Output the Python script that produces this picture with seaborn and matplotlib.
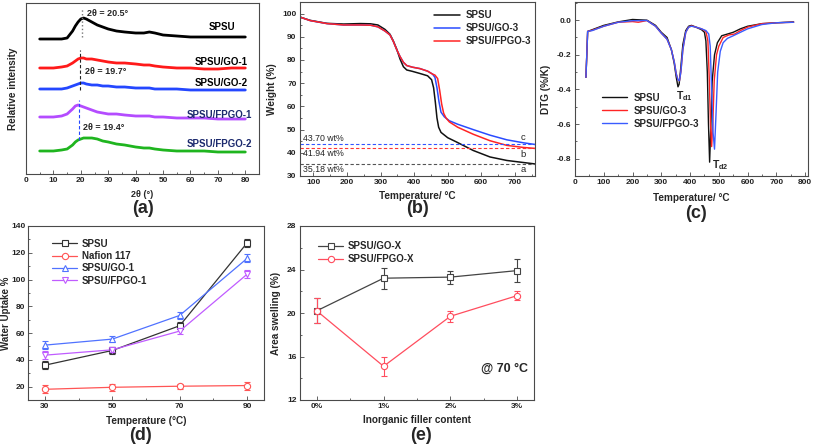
import matplotlib
matplotlib.use('Agg')
import matplotlib.pyplot as plt
from matplotlib.ticker import MultipleLocator, FixedLocator
import seaborn as sns

# ---------------- (a) XRD ----------------
xrd_2theta = [5, 10, 13, 15, 17, 18, 19, 20, 21, 22, 24, 26, 28, 30, 33, 36, 40, 43, 45, 47, 50, 55, 60, 65, 70, 75, 80]
xrd_spsu = [135, 135, 135, 136, 143, 148, 152, 155, 156, 155, 152, 149, 147, 145, 143, 142, 141, 141, 142, 141, 139, 138, 137, 137, 137, 137, 137]
xrd_go1 = [106, 106, 107, 108, 111, 113, 115, 116, 116, 115, 115, 114, 113, 112, 111, 111, 110, 109, 109, 108, 107, 106, 106, 105, 105, 106, 106]
xrd_go2 = [85, 85, 85, 86, 88, 89, 90, 91, 91, 90, 89, 89, 88, 88, 87, 87, 86, 86, 86, 85, 85, 85, 84, 84, 84, 84, 84]
xrd_fpgo1 = [57, 57, 58, 60, 65, 68, 69, 68, 67, 66, 64, 62, 61, 60, 60, 59, 58, 58, 58, 57, 57, 56, 56, 56, 55, 55, 55]
xrd_fpgo2 = [23, 23, 24, 25, 29, 32, 34, 35, 36, 36, 36, 35, 33, 32, 30, 29, 27, 26, 26, 25, 24, 23, 23, 23, 22, 22, 22]
xrd_names = ['SPSU', 'SPSU/GO-1', 'SPSU/GO-2', 'SPSU/FPGO-1', 'SPSU/FPGO-2']

# ---------------- (b) TGA ----------------
tga_T_spsu = [60, 90, 140, 190, 240, 270, 292, 313, 328, 338, 348, 358, 368, 378, 395, 417, 440, 452, 458, 463, 468, 473, 480, 500, 527, 576, 626, 676, 726, 760]
tga_spsu = [98.5, 97.1, 95.8, 95.5, 95.7, 95.6, 95.1, 93.2, 91.1, 88.2, 84.7, 80.4, 77.1, 75.7, 75.1, 74.2, 73.2, 71.5, 68.0, 62.0, 55.0, 51.0, 48.8, 46.5, 44.6, 41.0, 38.2, 36.7, 35.8, 35.2]
tga_T_go3 = [60, 90, 140, 190, 240, 270, 292, 313, 328, 338, 348, 358, 368, 378, 395, 417, 440, 455, 462, 468, 474, 480, 490, 505, 530, 576, 626, 676, 726, 760]
tga_go3 = [98.5, 97.0, 95.7, 95.1, 95.1, 95.0, 94.3, 92.5, 90.8, 88.0, 84.5, 81.5, 79.0, 77.6, 76.9, 76.3, 75.2, 73.9, 72.5, 68.0, 62.0, 57.5, 55.5, 53.8, 52.3, 50.0, 47.6, 45.6, 44.3, 43.6]
tga_T_fpgo3 = [60, 90, 140, 190, 240, 270, 292, 313, 328, 338, 348, 358, 368, 378, 395, 417, 440, 455, 462, 470, 476, 482, 488, 495, 505, 530, 576, 626, 676, 726, 760]
tga_fpgo3 = [98.5, 97.0, 95.7, 95.1, 95.1, 95.0, 94.3, 92.5, 90.8, 88.0, 84.5, 81.5, 79.0, 77.6, 76.9, 76.3, 75.2, 73.9, 73.5, 72.0, 67.0, 61.0, 57.0, 55.0, 53.3, 51.0, 48.0, 45.2, 43.2, 42.3, 41.9]
residues = [43.70, 41.94, 35.18]
residue_labels = ['43.70 wt%', '41.94 wt%', '35.18 wt%']

# ---------------- (c) DTG ----------------
dtg_T_spsu = [38, 41, 44, 60, 100, 150, 200, 250, 280, 300, 320, 335, 345, 352, 358, 362, 368, 375, 385, 395, 405, 420, 440, 450, 455, 460, 464, 468, 472, 477, 485, 495, 510, 530, 550, 575, 600, 650, 700, 760]
dtg_spsu = [-0.33, -0.2, -0.065, -0.055, -0.03, -0.01, 0.004, 0.0, -0.03, -0.07, -0.1, -0.17, -0.25, -0.33, -0.385, -0.37, -0.27, -0.14, -0.06, -0.035, -0.03, -0.04, -0.055, -0.07, -0.12, -0.3, -0.6, -0.82, -0.62, -0.35, -0.2, -0.13, -0.09, -0.08, -0.07, -0.05, -0.035, -0.02, -0.015, -0.01]
dtg_T_go3 = [38, 41, 44, 60, 100, 150, 200, 220, 250, 280, 300, 320, 335, 345, 352, 358, 363, 368, 375, 385, 395, 405, 420, 440, 455, 462, 467, 471, 475, 479, 484, 492, 500, 515, 535, 555, 575, 600, 650, 700, 760]
dtg_go3 = [-0.33, -0.2, -0.065, -0.058, -0.035, -0.012, -0.008, -0.012, -0.002, -0.035, -0.075, -0.11, -0.17, -0.24, -0.31, -0.345, -0.35, -0.3, -0.17, -0.07, -0.04, -0.033, -0.04, -0.05, -0.065, -0.12, -0.35, -0.6, -0.73, -0.6, -0.35, -0.2, -0.15, -0.1, -0.085, -0.08, -0.06, -0.04, -0.02, -0.015, -0.012]
dtg_T_fpgo3 = [38, 41, 44, 60, 100, 150, 200, 250, 280, 300, 320, 335, 345, 352, 358, 363, 368, 375, 385, 395, 405, 420, 440, 455, 465, 470, 475, 480, 485, 490, 496, 505, 515, 530, 550, 575, 600, 650, 700, 760]
dtg_fpgo3 = [-0.33, -0.2, -0.065, -0.06, -0.035, -0.012, -0.003, -0.002, -0.035, -0.075, -0.11, -0.17, -0.24, -0.31, -0.345, -0.35, -0.3, -0.17, -0.07, -0.04, -0.035, -0.04, -0.05, -0.06, -0.08, -0.15, -0.4, -0.65, -0.745, -0.55, -0.3, -0.18, -0.13, -0.105, -0.09, -0.07, -0.05, -0.025, -0.015, -0.012]

# ---------------- (d) water uptake ----------------
wu_temp = [30, 50, 70, 90]
wu_spsu = [36.0, 47.0, 65.5, 127.4]
wu_spsu_err = [3.0, 2.5, 2.5, 3.0]
wu_nafion = [18.0, 19.5, 20.3, 20.8]
wu_nafion_err = [3.0, 2.5, 2.0, 3.0]
wu_go1 = [51.0, 55.5, 73.2, 115.8]
wu_go1_err = [3.0, 2.5, 2.5, 3.0]
wu_fpgo1 = [43.5, 47.5, 61.5, 104.0]
wu_fpgo1_err = [3.0, 2.0, 2.0, 3.0]

# ---------------- (e) area swelling ----------------
filler_labels = ['0%', '1%', '2%', '3%']
sw_go = [20.2, 23.2, 23.3, 23.9]
sw_go_err = [1.15, 0.95, 0.6, 1.05]
sw_fpgo = [20.2, 15.1, 19.7, 21.6]
sw_fpgo_err = [1.15, 0.9, 0.5, 0.45]

# ====================================================
sns.set_theme(style='ticks')
plt.rcParams['font.family'] = ['Liberation Sans', 'DejaVu Sans']
plt.rcParams['font.weight'] = 'bold'
plt.rcParams['axes.labelweight'] = 'bold'
plt.rcParams['axes.unicode_minus'] = False
plt.rcParams['mathtext.fontset'] = 'custom'
plt.rcParams['mathtext.rm'] = 'Liberation Sans:bold'
plt.rcParams['mathtext.it'] = 'Liberation Sans:bold'
plt.rcParams['mathtext.bf'] = 'Liberation Sans:bold'

W, H = 816, 445
fig = plt.figure(figsize=(W / 100, H / 100), dpi=100)


def rect(x0, y0, x1, y1):
    return [x0 / W, 1 - y1 / H, (x1 - x0) / W, (y1 - y0) / H]


def style(ax, xmaj, xmin, ymaj=None, ymin=None):
    for s in ax.spines.values():
        s.set_color('#4a4a4a')
        s.set_linewidth(0.8)
    ax.xaxis.set_major_locator(MultipleLocator(xmaj))
    ax.xaxis.set_minor_locator(MultipleLocator(xmin))
    if ymaj is not None:
        ax.yaxis.set_major_locator(MultipleLocator(ymaj))
        ax.yaxis.set_minor_locator(MultipleLocator(ymin))
    ax.tick_params(which='both', direction='in', width=0.6, color='#4a4a4a',
                   labelsize=6, pad=2.5, labelcolor='#222222')
    ax.tick_params(which='major', length=3)
    ax.tick_params(which='minor', length=1.6)


fs_lab = 7.2
fs_leg = 7

# ---------------- panel (a) ----------------
axa = fig.add_axes(rect(26, 3, 259, 174))
cols_a = ['#000000', '#ff1a1a', '#2447ff', '#b44cff', '#1fb51f']
for yv, c in zip([xrd_spsu, xrd_go1, xrd_go2, xrd_fpgo1, xrd_fpgo2], cols_a):
    sns.lineplot(x=xrd_2theta, y=yv, ax=axa, color=c, lw=2.0, legend=False)
axa.set_xlim(0, 85)
axa.set_ylim(0, 171)
style(axa, 10, 5)
axa.set_yticks([])
axa.set_ylabel('Relative intensity', fontsize=fs_lab, labelpad=6)
axa.set_xlabel('2θ (°)', fontsize=6.5, labelpad=4)
axa.plot([20.5, 20.5], [137, 166], color='#777777', ls=':', lw=1.0)
axa.plot([19.7, 19.7], [84, 124], color='#222222', ls=(0, (3, 2)), lw=0.8)
axa.plot([19.4, 19.4], [34, 74], color='#2447ff', ls=(0, (3, 2)), lw=0.8)
axa.text(22.2, 161, '2θ = 20.5°', fontsize=6.5, va='center')
axa.text(21.5, 103, '2θ = 19.7°', fontsize=6.5, va='center')
axa.text(20.7, 46, '2θ = 19.4°', fontsize=6.5, va='center')
lab_pos = [(76.2, 147), (81, 112), (81, 91), (82.5, 59), (82.5, 30)]
lab_col = ['#000000', '#000000', '#000000', '#1c2a6e', '#1c2a6e']
for name, (lx, ly), c in zip(xrd_names, lab_pos, lab_col):
    axa.text(lx, ly, name, fontsize=fs_leg, ha='right', va='center', color=c)

# ---------------- panel (b) ----------------
axb = fig.add_axes(rect(300, 2, 535, 176))
sns.lineplot(x=tga_T_spsu, y=tga_spsu, ax=axb, color='#111111', lw=1.1, label='SPSU')
sns.lineplot(x=tga_T_go3, y=tga_go3, ax=axb, color='#2a4bff', lw=1.1, label='SPSU/GO-3')
sns.lineplot(x=tga_T_fpgo3, y=tga_fpgo3, ax=axb, color='#ff2424', lw=1.1, label='SPSU/FPGO-3')
for r, c in zip(residues, ['#3355ff', '#ff3535', '#555555']):
    axb.axhline(r, color=c, ls=(0, (3, 2)), lw=0.8)
for r, t, yy in zip(residues, residue_labels, [46.2, 39.7, 32.9]):
    axb.text(69, yy, t, fontsize=6.3, fontweight='normal', va='center')
for t, yy in zip(['c', 'b', 'a'], [46.5, 39.3, 32.6]):
    axb.text(724, yy, t, fontsize=6.8, fontweight='normal', ha='center', va='center')
axb.set_xlim(60, 760)
axb.set_ylim(30, 105)
style(axb, 100, 50, 10, 5)
axb.set_ylabel('Weight (%)', fontsize=fs_lab, labelpad=4)
axb.set_xlabel('Temperature/ °C', fontsize=fs_lab, labelpad=3)
axb.legend(loc='upper left', bbox_to_anchor=(0.555, 0.975), frameon=False, fontsize=fs_leg,
           handlelength=2.6, labelspacing=0.3, handletextpad=0.6, borderaxespad=0)

# ---------------- panel (c) ----------------
axc = fig.add_axes(rect(575, 2, 808, 176))
sns.lineplot(x=dtg_T_spsu, y=dtg_spsu, ax=axc, color='#111111', lw=1.0, label='SPSU')
sns.lineplot(x=dtg_T_go3, y=dtg_go3, ax=axc, color='#ff2424', lw=1.0, label='SPSU/GO-3')
sns.lineplot(x=dtg_T_fpgo3, y=dtg_fpgo3, ax=axc, color='#3a5cff', lw=1.0, label='SPSU/FPGO-3')
axc.set_xlim(0, 810)
axc.set_ylim(-0.9, 0.105)
style(axc, 100, 50, 0.2, 0.1)
axc.yaxis.set_major_formatter(matplotlib.ticker.FormatStrFormatter('%.1f'))
axc.set_ylabel('DTG (%/K)', fontsize=fs_lab, labelpad=4)
axc.set_xlabel('Temperature/ °C', fontsize=fs_lab, labelpad=5)
axc.text(352, -0.4, r'T$_{d1}$', fontsize=7.5, va='top')
axc.text(478, -0.8, r'T$_{d2}$', fontsize=7.5, va='top')
axc.legend(loc='upper left', bbox_to_anchor=(0.1, 0.5), frameon=False, fontsize=fs_leg,
           handlelength=2.6, labelspacing=0.3, handletextpad=0.6, borderaxespad=0)

# ---------------- panel (d) ----------------
axd = fig.add_axes(rect(28, 226, 264, 400))
series_d = [(wu_spsu, wu_spsu_err, 'SPSU', '#333333', 's'),
            (wu_nafion, wu_nafion_err, 'Nafion 117', '#ff5555', 'o'),
            (wu_go1, wu_go1_err, 'SPSU/GO-1', '#5072ff', '^'),
            (wu_fpgo1, wu_fpgo1_err, 'SPSU/FPGO-1', '#c05cff', 'v')]
for yv, ev, name, c, m in series_d:
    axd.errorbar(wu_temp, yv, yerr=ev, fmt='none', ecolor=c, elinewidth=0.8, capsize=2, capthick=0.8)
    sns.lineplot(x=wu_temp, y=yv, ax=axd, color=c, lw=0.9, marker=m, markersize=4.5,
                 markerfacecolor='white', markeredgecolor=c, markeredgewidth=0.8, label=name)
axd.set_xlim(25, 95)
axd.set_ylim(10, 140)
style(axd, 20, 10, 20, 10)
axd.xaxis.set_major_locator(FixedLocator(wu_temp))
axd.xaxis.set_minor_locator(FixedLocator([40, 60, 80]))
axd.tick_params(axis='y', pad=2)
axd.set_ylabel('Water Uptake %', fontsize=7)
axd.yaxis.set_label_coords(-17 / 236, 0.5)
axd.set_xlabel('Temperature (°C)', fontsize=fs_lab, labelpad=4)
axd.legend(loc='upper left', bbox_to_anchor=(0.085, 0.95), frameon=False, fontsize=fs_leg,
           handlelength=2.6, labelspacing=0.25, handletextpad=0.5, borderaxespad=0)

# ---------------- panel (e) ----------------
axe = fig.add_axes(rect(300, 226, 534, 400))
xe = list(range(len(filler_labels)))
for yv, ev, name, c, m in [(sw_go, sw_go_err, 'SPSU/GO-X', '#444444', 's'),
                           (sw_fpgo, sw_fpgo_err, 'SPSU/FPGO-X', '#ff4d5e', 'o')]:
    axe.errorbar(xe, yv, yerr=ev, fmt='none', ecolor=c, elinewidth=0.8, capsize=2, capthick=0.8)
    sns.lineplot(x=xe, y=yv, ax=axe, color=c, lw=0.9, marker=m, markersize=4.5,
                 markerfacecolor='white', markeredgecolor=c, markeredgewidth=0.8, label=name)
axe.set_xlim(-0.25, 3.25)
axe.set_ylim(12, 28)
style(axe, 1, 0.5, 4, 2)
axe.set_xticks(xe)
axe.set_xticklabels(filler_labels)
axe.set_ylabel('Area swelling (%)', fontsize=fs_lab, labelpad=4)
axe.set_xlabel('Inorganic filler content', fontsize=fs_lab, labelpad=3)
axe.text(2.45, 14.9, '@ 70 °C', fontsize=9, va='center')
axe.legend(loc='upper left', bbox_to_anchor=(0.06, 0.935), frameon=False, fontsize=fs_leg,
           handlelength=2.6, labelspacing=0.3, handletextpad=0.5, borderaxespad=0)

# ---------------- panel letters ----------------
for lx, ly, t in [(143, 208, '(a)'), (418, 208, '(b)'), (696, 213, '(c)'),
                  (141, 435, '(d)'), (421, 435, '(e)')]:
    fig.text(lx / W, 1 - ly / H, t, fontsize=13, ha='center', va='center')

fig.savefig('out.png', dpi=100)
